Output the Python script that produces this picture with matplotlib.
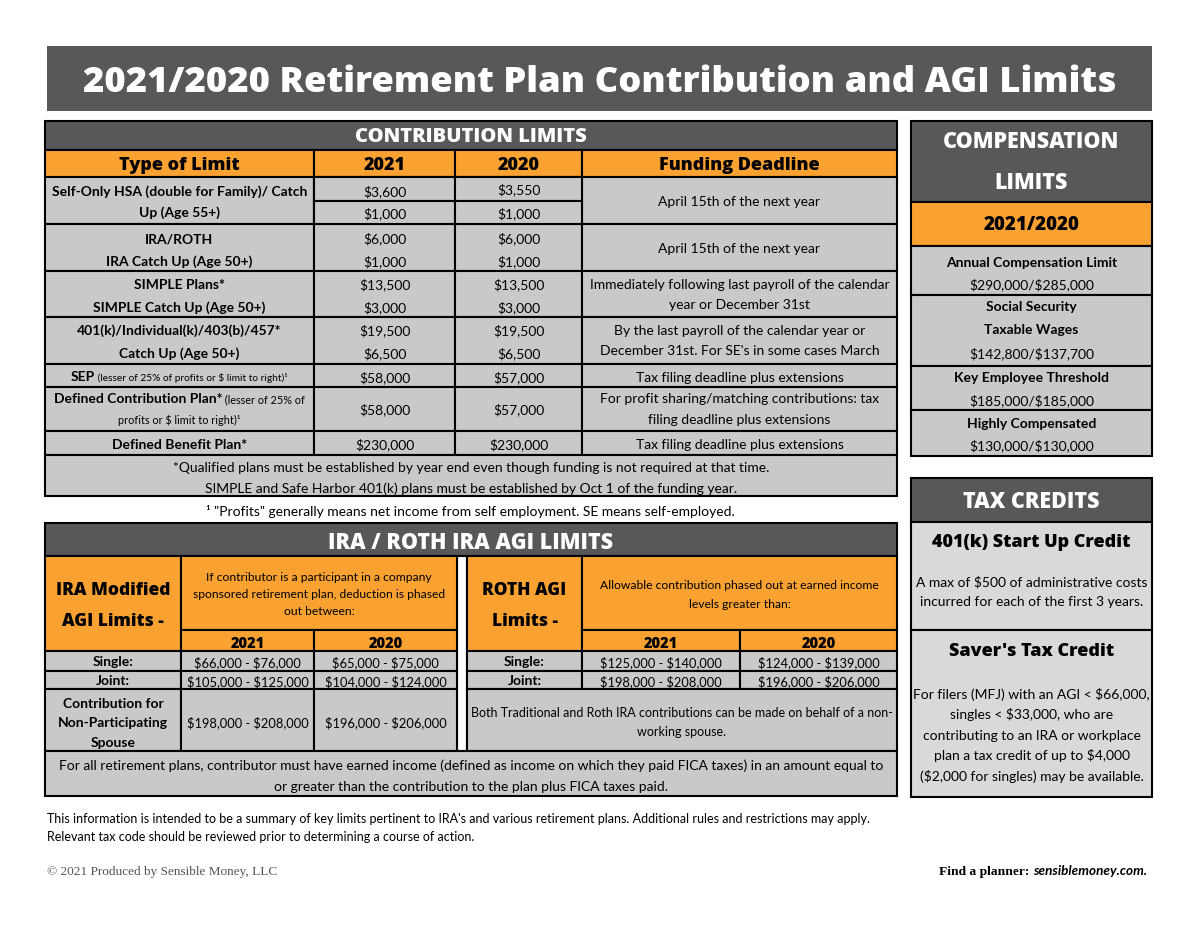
import matplotlib
matplotlib.use("Agg")
import matplotlib.pyplot as plt
from matplotlib.patches import Rectangle

plt.rcParams['text.parse_math'] = False

# ---------------- data ----------------
title = "2021/2020 Retirement Plan Contribution and AGI Limits"
contrib_header = "CONTRIBUTION LIMITS"
contrib_cols = ["Type of Limit", "2021", "2020", "Funding Deadline"]
hsa_label = ["Self-Only HSA (double for Family)/ Catch", "Up (Age 55+)"]
hsa_2021 = ["$3,600", "$1,000"]
hsa_2020 = ["$3,550", "$1,000"]
hsa_deadline = ["April 15th of the next year"]
ira_label = ["IRA/ROTH", "IRA Catch Up (Age 50+)"]
ira_2021 = ["$6,000", "$1,000"]
ira_2020 = ["$6,000", "$1,000"]
ira_deadline = ["April 15th of the next year"]
simple_label = ["SIMPLE Plans*", "SIMPLE Catch Up (Age 50+)"]
simple_2021 = ["$13,500", "$3,000"]
simple_2020 = ["$13,500", "$3,000"]
simple_deadline = ["Immediately following last payroll of the calendar", "year or December 31st"]
k401_label = ["401(k)/Individual(k)/403(b)/457*", "Catch Up (Age 50+)"]
k401_2021 = ["$19,500", "$6,500"]
k401_2020 = ["$19,500", "$6,500"]
k401_deadline = ["By the last payroll of the calendar year or", "December 31st. For SE's in some cases March"]
sep_label = ("SEP", " (lesser of 25% of profits or $ limit to right)\u00b9")
sep_2021 = "$58,000"
sep_2020 = "$57,000"
sep_deadline = "Tax filing deadline plus extensions"
dc_label = ("Defined Contribution Plan*", " (lesser of 25% of", "profits or $ limit to right)\u00b9")
dc_2021 = "$58,000"
dc_2020 = "$57,000"
dc_deadline = ["For profit sharing/matching contributions: tax", "filing deadline plus extensions"]
db_label = "Defined Benefit Plan*"
db_2021 = "$230,000"
db_2020 = "$230,000"
db_deadline = "Tax filing deadline plus extensions"
contrib_note = ["*Qualified plans must be established by year end even though funding is not required at that time.",
                "SIMPLE and Safe Harbor 401(k) plans must be established by Oct 1 of the funding year."]
profits_note = "\u00b9 \"Profits\" generally means net income from self employment. SE means self-employed."

comp_header = ["COMPENSATION", "LIMITS"]
comp_years = "2021/2020"
comp_items = [["Annual Compensation Limit"], ["Social Security", "Taxable Wages"],
              ["Key Employee Threshold"], ["Highly Compensated"]]
comp_values = ["$290,000/$285,000", "$142,800/$137,700", "$185,000/$185,000", "$130,000/$130,000"]

tax_header = "TAX CREDITS"
startup_title = "401(k) Start Up Credit"
startup_text = ["A max of $500 of administrative costs", "incurred for each of the first 3 years."]
saver_title = "Saver's Tax Credit"
saver_text = ["For filers (MFJ) with an AGI < $66,000,", "singles < $33,000, who are",
              "contributing to an IRA or workplace", "plan a tax credit of up to $4,000",
              "($2,000 for singles) may be available."]

agi_header = "IRA / ROTH IRA AGI LIMITS"
ira_mod_title = ["IRA Modified", "AGI Limits -"]
ira_mod_desc = ["If contributor is a participant in a company", "sponsored retirement plan, deduction is phased", "out between:"]
roth_title = ["ROTH AGI", "Limits -"]
roth_desc = ["Allowable contribution phased out at earned income", "levels greater than:"]
agi_years = ["2021", "2020"]
ira_rows = ["Single:", "Joint:"]
ira_2021_vals = ["$66,000 - $76,000", "$105,000 - $125,000"]
ira_2020_vals = ["$65,000 - $75,000", "$104,000 - $124,000"]
spouse_label = ["Contribution for", "Non-Participating", "Spouse"]
spouse_2021 = "$198,000 - $208,000"
spouse_2020 = "$196,000 - $206,000"
roth_rows = ["Single:", "Joint:"]
roth_2021_vals = ["$125,000 - $140,000", "$198,000 - $208,000"]
roth_2020_vals = ["$124,000 - $139,000", "$196,000 - $206,000"]
roth_spouse = ["Both Traditional and Roth IRA contributions can be made on behalf of a non-", "working spouse."]
earned_note = ["For all retirement plans, contributor must have earned income (defined as income on which they paid FICA taxes) in an amount equal to",
               "or greater than the contribution to the plan plus FICA taxes paid."]
disclaimer = ["This information is intended to be a summary of key limits pertinent to IRA's and various retirement plans. Additional rules and restrictions may apply.",
              "Relevant tax code should be reviewed prior to determining a course of action."]
copyright_txt = "\u00a9 2021 Produced by Sensible Money, LLC"
planner_txt = ("Find a planner: ", "sensiblemoney.com.")

# ---------------- style ----------------
DARK = "#58585a"
ORANGE = "#f9a232"
GRAY = "#c9c9c9"
LIGHT = "#d9d9d9"
FH = "Open Sans"
FB = "Lato"
HW = 800
LW = 1.5

fig = plt.figure(figsize=(12, 9.28), dpi=100)
ax = fig.add_axes([0, 0, 1, 1])
ax.set_xlim(0, 1200)
ax.set_ylim(928, 0)
ax.axis("off")
renderer = fig.canvas.get_renderer()


def box(x0, y0, x1, y1, color, lw=LW, ec="black"):
    ax.add_patch(Rectangle((x0, y0), x1 - x0, y1 - y0, facecolor=color, edgecolor=ec, linewidth=lw))


def txt(x, y, s, size=10, weight="normal", color="black", ha="center", family=FB, style="normal"):
    return ax.text(x, y, s, fontsize=size, fontweight=weight, color=color, ha=ha, va="center_baseline",
                   family=family, fontstyle=style)


def lines(x, ys, strs, **kw):
    for yy, s in zip(ys, strs):
        txt(x, yy, s, **kw)


def rich(x, y, parts, ha="center"):
    objs = []
    for s, size, weight, fam, st, col in parts:
        t = ax.text(0, y, s, fontsize=size, fontweight=weight, family=fam, fontstyle=st, color=col,
                    ha="left", va="baseline")
        objs.append(t)
    widths = [o.get_window_extent(renderer).width for o in objs]
    total = sum(widths)
    if ha == "center":
        x0 = x - total / 2
    elif ha == "right":
        x0 = x - total
    else:
        x0 = x
    for o, w in zip(objs, widths):
        o.set_x(x0)
        x0 += w


# ---------------- title ----------------
box(47, 47, 1152, 112, DARK, lw=0)
txt(600, 78, title, size=26.2, weight=HW, color="white", family=FH)

# ---------------- contribution limits ----------------
c0, c1, c2, c3, c4 = 45, 314, 455, 582, 897
box(c0, 122, c4, 151, DARK)
txt((c0 + c4) / 2, 135, contrib_header, size=14.5, weight=HW, color="white", family=FH)
cx = [c0, c1, c2, c3, c4]
for i, lab in enumerate(contrib_cols):
    box(cx[i], 151, cx[i + 1], 178, ORANGE)
    txt((cx[i] + cx[i + 1]) / 2, 163, lab, size=13, weight=HW, family=FH)

rows = [178, 225, 272, 318, 365, 388, 432, 456]
for r in range(len(rows) - 1):
    for i in range(4):
        box(cx[i], rows[r], cx[i + 1], rows[r + 1], GRAY)
box(c1, 178, c2, 202, GRAY); box(c1, 202, c2, 225, GRAY)
box(c2, 178, c3, 202, GRAY); box(c2, 202, c3, 225, GRAY)

m0, m1, m2, m3 = (c0 + c1) / 2, (c1 + c2) / 2, (c2 + c3) / 2, (c3 + c4) / 2
LS = 10
VS = 10
lines(m0, [191, 212], hsa_label, size=LS, weight="bold")
lines(m1, [191, 213], hsa_2021, size=VS)
lines(m2, [189, 213], hsa_2020, size=VS)
lines(m3, [201], hsa_deadline, size=VS)
lines(m0, [238, 261], ira_label, size=LS, weight="bold")
lines(m1, [238, 261], ira_2021, size=VS)
lines(m2, [238, 261], ira_2020, size=VS)
lines(m3, [248], ira_deadline, size=VS)
lines(m0, [284, 307], simple_label, size=LS, weight="bold")
lines(m1, [284, 307], simple_2021, size=VS)
lines(m2, [284, 307], simple_2020, size=VS)
lines(m3, [284, 304], simple_deadline, size=VS)
lines(m0, [330, 353], k401_label, size=LS, weight="bold")
lines(m1, [330, 353], k401_2021, size=VS)
lines(m2, [330, 353], k401_2020, size=VS)
lines(m3, [330, 350], k401_deadline, size=VS)
rich(m0, 381, [(sep_label[0], LS, "bold", FB, "normal", "black"),
               (sep_label[1], 7.3, "normal", FB, "normal", "black")])
txt(m1, 377, sep_2021, size=VS)
txt(m2, 377, sep_2020, size=VS)
txt(m3, 377, sep_deadline, size=VS)
rich(m0, 403, [(dc_label[0], LS, "bold", FB, "normal", "black"),
               (dc_label[1], 7.8, "normal", FB, "normal", "black")])
rich(m0, 424, [(dc_label[2], 7.8, "normal", FB, "normal", "black")])
txt(m1, 409, dc_2021, size=VS)
txt(m2, 409, dc_2020, size=VS)
lines(m3, [398, 419], dc_deadline, size=VS)
txt(m0, 444, db_label, size=LS, weight="bold")
txt(m1, 444, db_2021, size=VS)
txt(m2, 444, db_2020, size=VS)
txt(m3, 444, db_deadline, size=VS)
box(c0, 456, c4, 497, GRAY)
lines((c0 + c4) / 2, [467, 488], contrib_note, size=VS)
txt(470, 511, profits_note, size=VS)

# ---------------- compensation limits ----------------
k0, k1 = 911, 1152
km = (k0 + k1) / 2
box(k0, 122, k1, 203, DARK)
lines(km, [139, 180], comp_header, size=15.5, weight=HW, color="white", family=FH)
box(k0, 203, k1, 247, ORANGE)
txt(km, 223, comp_years, size=13.5, weight=HW, family=FH)
comp_rows = [247, 296, 367, 411, 457]
comp_text_y = [[262], [306, 329], [377], [423]]
comp_val_y = [284, 353, 400, 445]
for i in range(4):
    box(k0, comp_rows[i], k1, comp_rows[i + 1], GRAY)
    lines(km, comp_text_y[i], comp_items[i], size=VS, weight="bold")
    txt(km, comp_val_y[i], comp_values[i], size=VS)

# ---------------- tax credits ----------------
box(k0, 479, k1, 523, DARK)
txt(km, 499, tax_header, size=15.5, weight=HW, color="white", family=FH)
box(k0, 523, k1, 631, LIGHT)
txt(km, 541, startup_title, size=13, weight=HW, family=FH)
lines(km, [581, 601], startup_text, size=VS)
box(k0, 631, k1, 798, LIGHT)
txt(km, 650, saver_title, size=13, weight=HW, family=FH)
lines(km, [694, 714, 735, 755, 776], saver_text, size=VS)

# ---------------- IRA / ROTH AGI ----------------
box(c0, 524, c4, 557, DARK)
txt((c0 + c4) / 2, 540, agi_header, size=15.5, weight=HW, color="white", family=FH)
L0, L1, L2, L3 = 45, 181, 314, 457
R0, R1, R2, R3 = 467, 582, 740, 897
box(L3, 557, R0, 752, "white")
for (a0, a1, a2, a3, ttl, desc, dys) in [(L0, L1, L2, L3, ira_mod_title, ira_mod_desc, [577, 594, 611]),
                                          (R0, R1, R2, R3, roth_title, roth_desc, [585, 604])]:
    box(a0, 557, a1, 652, ORANGE)
    lines((a0 + a1) / 2, [589, 620], ttl, size=12.5, weight=HW, family=FH)
    box(a1, 557, a3, 631, ORANGE)
    lines((a1 + a3) / 2, dys, desc, size=8.7)
    box(a1, 631, a2, 652, ORANGE)
    box(a2, 631, a3, 652, ORANGE)
    txt((a1 + a2) / 2, 642, agi_years[0], size=10.5, weight=HW, family=FH)
    txt((a2 + a3) / 2, 642, agi_years[1], size=10.5, weight=HW, family=FH)

agi_rows = [652, 672, 690]
for i in range(2):
    for (a0, a1) in [(L0, L1), (L1, L2), (L2, L3), (R0, R1), (R1, R2), (R2, R3)]:
        box(a0, agi_rows[i], a1, agi_rows[i + 1], GRAY)
    yy = (agi_rows[i] + agi_rows[i + 1]) / 2 - 0.5
    txt((L0 + L1) / 2, yy, ira_rows[i], size=VS, weight="bold")
    txt((L1 + L2) / 2, yy, ira_2021_vals[i], size=9.3)
    txt((L2 + L3) / 2, yy, ira_2020_vals[i], size=9.3)
    txt((R0 + R1) / 2, yy, roth_rows[i], size=VS, weight="bold")
    txt((R1 + R2) / 2, yy, roth_2021_vals[i], size=9.3)
    txt((R2 + R3) / 2, yy, roth_2020_vals[i], size=9.3)

box(L0, 690, L1, 752, GRAY)
box(L1, 690, L2, 752, GRAY)
box(L2, 690, L3, 752, GRAY)
lines((L0 + L1) / 2, [703, 722, 742], spouse_label, size=VS, weight="bold")
txt((L1 + L2) / 2, 722, spouse_2021, size=9.3)
txt((L2 + L3) / 2, 722, spouse_2020, size=9.3)
box(R0, 690, R3, 752, GRAY)
lines((R0 + R3) / 2, [712, 731], roth_spouse, size=9)

box(c0, 752, c4, 797, GRAY)
lines((c0 + c4) / 2, [765, 786], earned_note, size=VS)

# ---------------- footer ----------------
for yy, s in zip([818, 836], disclaimer):
    txt(47, yy, s, size=9, ha="left")
txt(47, 871, copyright_txt, size=9.5, ha="left", family="Liberation Serif", color="#555555")
rich(1147, 875, [(planner_txt[0], 9.7, "bold", "Liberation Serif", "normal", "black"),
                 (planner_txt[1], 9.7, "bold", FB, "italic", "black")], ha="right")

fig.savefig("out.png", dpi=100)
